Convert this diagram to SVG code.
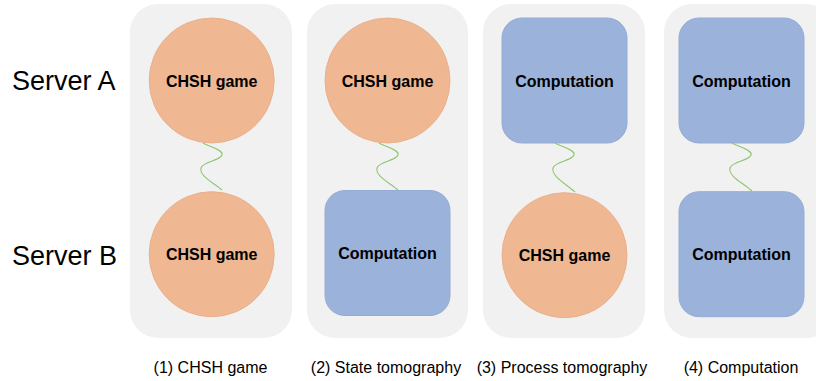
<svg xmlns="http://www.w3.org/2000/svg" width="816" height="381" viewBox="0 0 816 381">
<style>
.panel{fill:#f1f1f1}
.game{fill:#f0b793;stroke:#eab08c;stroke-width:1}
.comp{fill:#9bb2da;stroke:#95acd5;stroke-width:1}
.lbl{font-family:"Liberation Sans",Arial,sans-serif;font-weight:bold;font-size:16px;fill:#000;text-anchor:middle}
.side{font-family:"Liberation Sans",Arial,sans-serif;font-size:27px;fill:#000}
.cap{font-family:"Liberation Sans",Arial,sans-serif;font-size:16px;fill:#000;text-anchor:middle}
.wire{fill:none;stroke:#8dc673;stroke-width:1.1}
</style>
<g id="panels">
<rect class="panel" x="130" y="4" width="162" height="334" rx="28"/>
<rect class="panel" x="307" y="4" width="161" height="334" rx="28"/>
<rect class="panel" x="483" y="4" width="162" height="334" rx="28"/>
<rect class="panel" x="664" y="4" width="170" height="334" rx="28"/>
</g>
<g id="labels">
<text class="side" x="12" y="90">Server A</text>
<text class="side" x="12" y="265">Server B</text>
<text class="cap" x="210.5" y="373">(1) CHSH game</text>
<text class="cap" x="386" y="373">(2) State tomography</text>
<text class="cap" x="562" y="373">(3) Process tomography</text>
<text class="cap" x="741" y="373">(4) Computation</text>
</g>
<g id="connectors">
<path class="wire" d="M203,143 C210,147 224,150 222,155 C220,161 203,161 201,168 C199,176 214,183 222,190"/>
<path class="wire" d="M379,143 C386,147 400,150 398,155 C396,161 379,161 377,168 C375,176 390,183 398,190"/>
<path class="wire" d="M555,143 C562,147 576,150 574,155 C572,161 555,161 553,168 C551,176 566,184 575,192"/>
<path class="wire" d="M732,143 C739,147 753,150 751,155 C749,161 732,161 730,168 C728,176 743,183 752,191"/>
</g>
<g id="p1a"><circle class="game" cx="211.7" cy="80.5" r="62.5"/><text class="lbl" x="211.7" y="86.5">CHSH game</text></g>
<g id="p1b"><circle class="game" cx="211.7" cy="254.2" r="62.5"/><text class="lbl" x="211.7" y="260.2">CHSH game</text></g>
<g id="p2a"><circle class="game" cx="387.5" cy="80.5" r="62.5"/><text class="lbl" x="387.5" y="86.5">CHSH game</text></g>
<g id="p2b"><rect class="comp" x="325" y="190.5" width="125" height="125" rx="20"/><text class="lbl" x="387.5" y="259">Computation</text></g>
<g id="p3a"><rect class="comp" x="502" y="18" width="125" height="125" rx="20"/><text class="lbl" x="564.5" y="86.5">Computation</text></g>
<g id="p3b"><circle class="game" cx="564.5" cy="255.2" r="62.5"/><text class="lbl" x="564.5" y="261.2">CHSH game</text></g>
<g id="p4a"><rect class="comp" x="679" y="18" width="125" height="125" rx="20"/><text class="lbl" x="741.5" y="86.5">Computation</text></g>
<g id="p4b"><rect class="comp" x="679" y="191.7" width="125" height="125" rx="20"/><text class="lbl" x="741.5" y="260">Computation</text></g>
</svg>
